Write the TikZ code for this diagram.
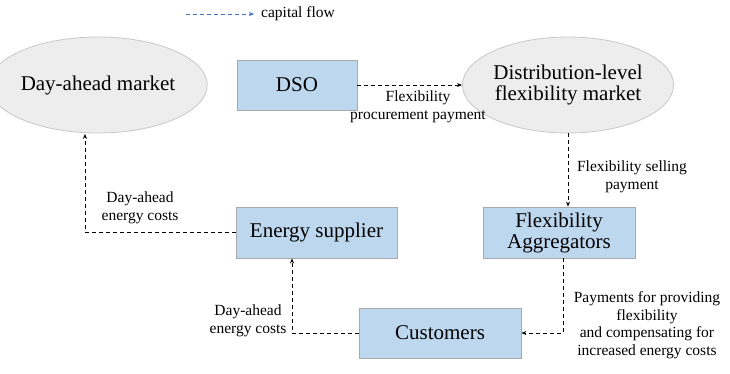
\documentclass[tikz,border=0pt]{standalone}
\usepackage{fontspec}
\setmainfont{Liberation Serif}
\usetikzlibrary{shapes.geometric,arrows.meta,calc}
\definecolor{boxfill}{HTML}{BDD7EE}
\definecolor{boxline}{HTML}{A9A9A9}
\definecolor{ellfill}{HTML}{EDEDED}
\definecolor{ellline}{HTML}{C8C8C8}
\definecolor{legblue}{HTML}{4472C4}
\tikzset{
  bigtext/.style={font=\fontsize{21}{24}\selectfont},
  smalltext/.style={font=\fontsize{15.5}{17.5}\selectfont, align=center, inner sep=0pt},
  market/.style={ellipse, draw=ellline, fill=ellfill, line width=0.8pt, inner sep=0pt, bigtext, align=center},
  actor/.style={rectangle, draw=boxline, fill=boxfill, line width=0.8pt, inner sep=0pt, bigtext, align=center},
  flow/.style={draw=black, line width=0.8pt, dash pattern=on 4pt off 3pt, -{Stealth[length=5pt,width=4pt]}},
}
\begin{document}
\begin{tikzpicture}[x=1pt,y=-1pt]
\useasboundingbox (0,0) rectangle (730,374);
% legend
\coordinate (lgA) at (186,14);
\coordinate (lgB) at (254,14);
\draw[flow, draw=legblue, {-Stealth[length=5pt,width=4pt]}, -{Stealth[length=5pt,width=4pt,fill=legblue]}] (lgA) -- (lgB);
\node[smalltext, anchor=west] (lgT) at (261,14) {capital flow};
% markets
\node[market, minimum width=172pt, minimum height=96pt] (dam) at (98,85) {Day-ahead market};
\node[market, minimum width=171pt, minimum height=96pt] (dfm) at (568,85) {Distribution-level\\[-3pt]flexibility market};
% actors
\node[actor, minimum width=120pt, minimum height=50pt] (dso) at (297,85) {DSO};
\node[actor, minimum width=161pt, minimum height=51pt] (es) at (316.5,232.5) {Energy supplier};
\node[actor, minimum width=152pt, minimum height=51pt] (agg) at (559,232.5) {Flexibility\\[-3pt]Aggregators};
\node[actor, minimum width=162pt, minimum height=50pt] (cus) at (440,333) {Customers};
% flows
\draw[flow] (dso.east) -- (dfm.west);
\draw[flow] (dfm.south) -- (dfm.south |- agg.north);
\draw[flow] ([xshift=4pt]agg.south) |- (cus.east);
\draw[flow] (cus.west) -| ([xshift=-24.5pt]es.south);
\draw[flow] (es.west) -| ([xshift=-13pt,yshift=-0.5pt]dam.south);
% labels
\node[smalltext] (l1) at (418,107) {Flexibility\\procurement payment};
\node[smalltext] (l2) at (632,177) {Flexibility selling\\payment};
\node[smalltext] (l3) at (140,208) {Day-ahead\\energy costs};
\node[smalltext] (l4) at (248,321) {Day-ahead\\energy costs};
\node[smalltext] (l5) at (647,325) {Payments for providing\\flexibility\\and compensating for\\increased energy costs};
\end{tikzpicture}
\end{document}
